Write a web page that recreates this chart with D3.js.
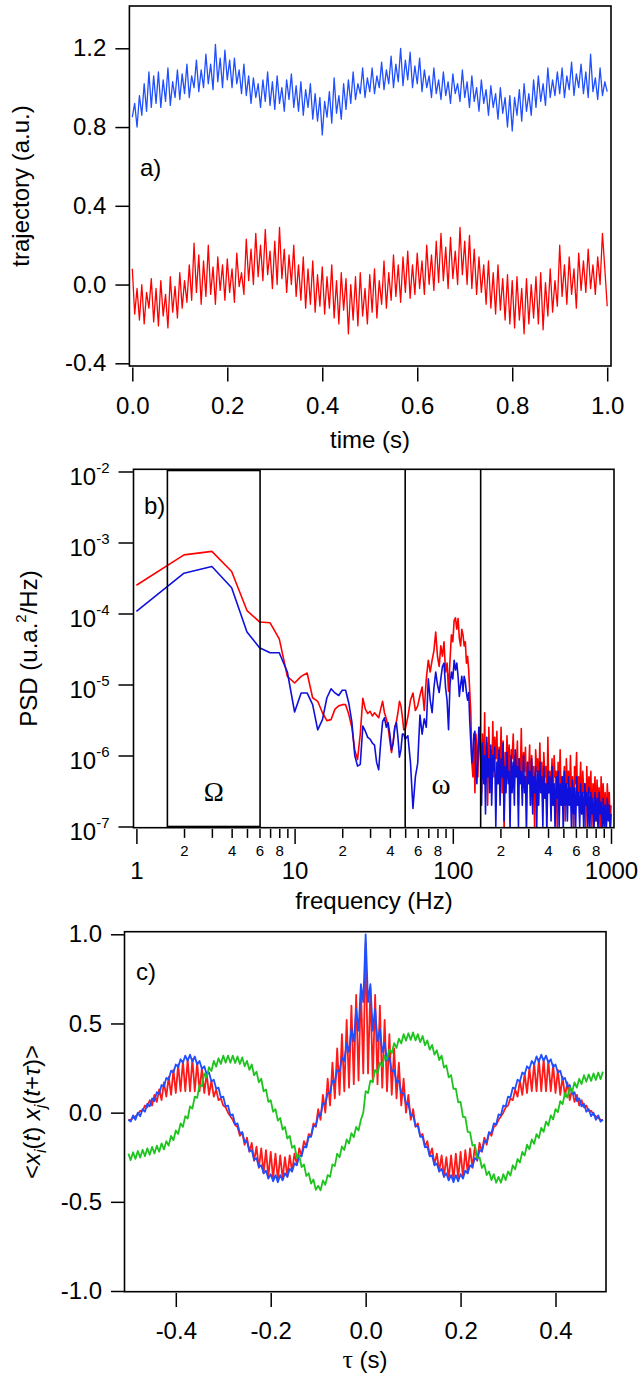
<!DOCTYPE html>
<html><head><meta charset="utf-8">
<script src="https://cdn.jsdelivr.net/npm/d3@7"></script>
<style>html,body{margin:0;padding:0;background:#fff;}svg{display:block;}</style>
</head><body>
<script>
// ---------------- Panel a data ----------------
const timeStep = 0.005;
const trajTimeTicks = [0, 0.2, 0.4, 0.6, 0.8, 1.0];
const trajValueTicks = [-0.4, 0, 0.4, 0.8, 1.2];
const trajBlue = [
.85,.92,.80,.96,.86,1.02,.88,1.08,.90,1.06,
.92,1.08,.90,1.04,.93,1.10,.91,1.03,.95,1.09,
.94,1.07,.97,1.12,.95,1.06,1.0,1.14,.98,1.09,
1.0,1.17,1.02,1.12,.99,1.22,1.03,1.15,1.0,1.19,
1.04,1.14,1.0,1.15,1.02,1.09,.97,1.12,.96,1.06,
.92,1.05,.95,1.02,.9,1.04,.93,1.08,.91,1.03,
.89,1.06,.92,1.0,.88,1.04,.94,1.07,.9,1.01,
.88,1.03,.86,.99,.9,1.02,.84,.97,.83,.95,
.76,.93,.85,.98,.82,1.05,.87,.96,.84,1.02,
.89,1.04,.92,1.08,.94,1.02,.97,1.1,.95,1.05,
.98,1.1,.97,1.06,1.0,1.13,.99,1.09,1.02,1.16,
1.0,1.12,1.03,1.2,1.01,1.14,1.04,1.18,1.0,1.11,
1.02,1.15,.98,1.09,1.0,1.06,.95,1.1,.97,1.04,
.94,1.08,.96,1.03,.92,1.07,.97,1.02,.93,1.09,
.95,1.03,.9,1.06,.93,1.0,.88,1.04,.92,.99,
.86,1.01,.9,.97,.84,1.0,.87,.95,.8,.96,
.78,.95,.86,.99,.83,1.02,.88,.97,.86,1.04,
.9,1.06,.93,1.02,.91,1.1,.95,1.04,.96,1.08,
.97,1.1,.95,1.06,.99,1.13,.96,1.07,1.0,1.12,
.97,1.08,.95,1.17,.98,1.05,.94,1.1,.96,1.03,
.98];
const trajRed = [
.08,-.15,-.02,-.18,.0,-.2,-.04,-.12,.03,-.19,
-.02,-.21,.02,-.16,-.05,-.22,.04,-.14,-.01,-.17,
.06,-.12,.02,-.09,.1,-.08,.21,-.04,.15,-.1,
.12,-.06,.2,-.05,.09,-.1,.14,-.03,.1,-.08,
.13,-.04,.08,-.09,.16,-.01,.06,-.05,.23,.02,
.18,.0,.26,.04,.2,.02,.28,.05,.17,-.02,
.22,.0,.29,.03,.18,-.04,.15,.0,.2,-.06,
.1,-.08,.14,-.12,.08,-.1,.12,-.14,.05,-.11,
.09,-.15,.04,-.12,.1,-.17,.02,-.2,.06,-.13,
.03,-.25,.0,-.18,.04,-.21,.06,-.16,-.02,-.2,
.05,-.14,.08,-.17,.02,-.1,.12,-.12,.06,-.08,
.15,-.06,.1,-.09,.14,-.04,.17,-.07,.1,-.05,
.16,-.02,.12,-.05,.2,.0,.15,-.03,.22,.01,
.26,.02,.19,-.02,.24,.03,.17,.0,.29,.05,
.22,.0,.25,-.02,.18,-.05,.14,-.04,.1,-.1,
.12,-.12,.06,-.15,.1,-.13,.03,-.18,.05,-.2,
.02,-.22,.04,-.18,-.02,-.25,.03,-.2,.0,-.17,
.04,-.2,.06,-.23,.01,-.16,.08,-.14,.02,-.11,
.2,-.06,.1,-.1,.14,-.05,.08,-.12,.16,-.03,
.12,-.04,.18,-.02,.1,-.05,.14,.0,.26,.08,
-.11];

// ---------------- Panel b data ----------------
const psdFreqLow = [1,2,3,4,5,6,7,8,9,10,11,12,13,14,15,16,17,18,19,20,21,22,23,24,25,26,27,28,29,30,
31,32,33,34,35,36,37,38,39,40,41,42,43,44,45,46,47,48,49,50];
const psdRedLow = [
2.5e-4,6.7e-4,7.5e-4,3.9e-4,1.1e-4,7.6e-5,7.4e-5,4.4e-5,1.3e-5,1.05e-5,
1.3e-5,1.45e-5,6.5e-6,5.8e-6,4.0e-6,3.1e-6,3.2e-6,4.5e-6,5.0e-6,5.2e-6,
5.2e-6,3.8e-6,2.5e-6,1.2e-6,8.8e-7,2.0e-6,6.4e-6,4.5e-6,3.9e-6,4.2e-6,
3.6e-6,4.0e-6,3.7e-6,3.4e-6,4.5e-6,5.8e-6,4.0e-6,3.3e-6,2.5e-6,1.6e-6,
1.1e-6,1.6e-6,2.5e-6,3.0e-6,4.0e-6,5.8e-6,5.0e-6,3.5e-6,2.3e-6,2.3e-6];
const psdBlueLow = [
1.07e-4,3.7e-4,4.6e-4,2.3e-4,5.5e-5,3.3e-5,2.8e-5,2.8e-5,1.5e-5,4.1e-6,
7.6e-6,7.6e-6,5.2e-6,2.3e-6,3.2e-6,6.5e-6,8.7e-6,7.6e-6,7.0e-6,8.3e-6,
8.3e-6,5.5e-6,3.0e-6,1.0e-6,7.1e-7,7.5e-7,2.6e-6,2.2e-6,1.8e-6,1.7e-6,
1.5e-6,1.4e-6,8e-7,6.3e-7,1.5e-6,3.0e-6,3.4e-6,2.5e-6,2.9e-6,2.0e-6,
1.2e-6,1.5e-6,2.5e-6,2.9e-6,1.8e-6,9.5e-7,1.2e-6,2.0e-6,2.0e-6,1.7e-6];
const psdFreqMid = [52,54,56,58,60,62,64,66,68,70,72,74,76,78,80,82,84,86,88,90,92,94,96,98,100,
102,104,106,108,110,112,114,116,118,120,122,124,126,128,130,132,134,136,138,140,142,144,146,148];
const psdRedMid = [
3.5e-6,6.0e-6,7.6e-6,4.3e-6,5.0e-6,7.0e-6,9.2e-6,4.3e-6,1.2e-5,2.2e-5,
1.5e-5,2.2e-5,3.0e-5,5.5e-5,2.5e-5,1.8e-5,3.5e-5,2.5e-5,4.0e-5,1.5e-5,
2.0e-5,8.0e-6,2.2e-5,5.0e-5,4.0e-5,8.0e-5,8.7e-5,6.0e-5,8.5e-5,4.5e-5,
3.5e-5,6.0e-5,5.0e-5,3.5e-5,4.0e-5,2.0e-5,2.5e-5,1.6e-5,8.0e-6,4.0e-6,
8.0e-7,5.0e-7,1.5e-6,3.0e-7,2.0e-6,1.2e-6,5.0e-7,1.8e-6,2.5e-6];
const psdBlueMid = [
1.9e-6,8e-7,1.8e-7,5e-7,7.8e-7,3.7e-6,2.0e-6,3.3e-6,2.5e-6,1.2e-5,
6e-6,4e-6,9e-6,1.5e-5,1.0e-5,7.7e-6,1.2e-5,1.8e-5,2.0e-5,9e-6,
6e-6,2.3e-6,1.0e-5,1.5e-5,1.2e-5,2.2e-5,1.6e-5,2.0e-5,1.3e-5,6.8e-6,
1.0e-5,1.3e-5,8e-6,1.3e-5,1.1e-5,7.7e-6,6e-6,7.7e-6,3e-6,1.5e-6,
7.9e-7,1.2e-6,2e-6,2.2e-6,6e-7,4e-7,1.0e-6,2.5e-6,1.5e-6];
const psdFreqHigh = [
150,152,154,157,159,161,164,166,169,171,
174,176,179,182,184,187,190,193,196,199,
202,205,208,211,214,217,220,224,227,230,
234,237,241,245,248,252,256,260,263,267,
271,275,280,284,288,292,297,301,306,310,
315,320,324,329,334,339,344,349,355,360,
365,371,376,382,388,393,399,405,411,418,
424,430,437,443,450,457,463,470,477,485,
492,499,507,514,522,530,538,546,554,563,
571,580,588,597,606,615,624,634,643,653,
663,673,683,693,703,714,725,735,746,757,
769,780,792,804,816,828,841,853,866,879,
892,905,919,933,947,961,975,990,1000];
const psdRedHigh = [
1.2e-6,3e-7,2e-6,6e-7,4e-6,4e-7,1.5e-6,2e-7,2.5e-6,8e-7,
1.2e-6,3e-7,3e-6,5e-7,1.8e-6,9e-7,2.2e-6,4e-7,1.3e-6,7e-7,
2.5e-6,3e-7,1.6e-6,8e-8,1.1e-6,5e-7,1.9e-6,6e-7,1.4e-6,3e-7,
1.2e-6,9e-7,2e-6,4e-7,1e-6,7e-7,1.6e-6,2e-7,9e-7,5e-7,
2.4e-6,4e-7,1.1e-6,6e-7,1.3e-6,3e-7,8e-7,5e-7,1.4e-6,2e-7,
1e-6,4e-7,7e-7,9e-8,1.2e-6,6e-7,9e-7,3e-7,1.5e-6,4e-7,
8e-7,2e-7,1.1e-6,5e-7,7e-7,1.5e-7,1.8e-6,3e-7,6e-7,4e-7,
9e-7,2e-7,1e-6,5e-7,6e-7,1e-7,8e-7,3e-7,1.2e-6,2e-7,
5e-7,3e-7,7e-7,1.2e-7,9e-7,4e-7,6e-7,2e-7,1e-6,3e-7,
5e-7,8e-8,7e-7,4e-7,1.1e-6,2e-7,5e-7,3e-7,8e-7,1.5e-7,
6e-7,3e-7,4e-7,9e-8,7e-7,2e-7,5e-7,3e-7,6e-7,1e-7,
4e-7,2.5e-7,5e-7,1.2e-7,4.5e-7,2e-7,3.5e-7,8e-8,5e-7,2e-7,
4e-7,1.5e-7,3e-7,9e-8,4e-7,2e-7,3e-7,1e-7,2e-7];
const psdBlueHigh = [
8e-7,2e-7,1.5e-6,4e-7,1e-6,1.5e-7,1.8e-6,5e-7,9e-7,3e-7,
1.4e-6,2e-7,1e-6,6e-7,1.3e-6,1e-7,8e-7,4e-7,1.2e-6,2e-7,
9e-7,5e-7,1.5e-6,1.2e-7,7e-7,3e-7,1.1e-6,4e-7,6e-7,9e-8,
1e-6,3e-7,8e-7,2e-7,1.2e-6,5e-7,7e-7,1e-7,9e-7,4e-7,
6e-7,2e-7,1e-6,3e-7,5e-7,8e-8,8e-7,4e-7,6e-7,2e-7,
9e-7,1.5e-7,5e-7,3e-7,7e-7,9e-8,6e-7,2e-7,8e-7,3e-7,
5e-7,1e-7,7e-7,2.5e-7,4e-7,8e-8,6e-7,3e-7,5e-7,1.2e-7,
7e-7,2e-7,4e-7,9e-8,5e-7,2.5e-7,6e-7,1e-7,4e-7,2e-7,
5e-7,8e-8,6e-7,2e-7,4e-7,1.2e-7,5e-7,2e-7,3.5e-7,9e-8,
4.5e-7,1.5e-7,3.5e-7,8e-8,5e-7,2e-7,3e-7,1e-7,4e-7,1.5e-7,
3e-7,8e-8,4e-7,2e-7,3e-7,1e-7,3.5e-7,9e-8,3e-7,1.5e-7,
2.5e-7,8e-8,3e-7,1.2e-7,2.5e-7,9e-8,3e-7,1.5e-7,2.2e-7,8e-8,
2.5e-7,1e-7,2e-7,9e-8,2.5e-7,1.2e-7,2e-7,8e-8,1.5e-7];
const psdDecadeTicks = [1, 10, 100, 1000];
const psdMinorSteps = [2, 3, 4, 5, 6, 7, 8, 9];
const psdMinorLabelled = [2, 4, 6, 8];
const psdExponentTicks = [-7, -6, -5, -4, -3, -2];
const bandLow = [1.57, 6.05];      // Ω band (Hz)
const bandHigh = [50, 150];        // ω band (Hz)

// ---------------- Panel c data ----------------
const lagStart = -0.5, lagStep = 0.005;
const lagTicks = [-0.4, -0.2, 0, 0.2, 0.4];
const corrTicks = [-1, -0.5, 0, 0.5, 1];
const corrRed = [
-.04,-.04,-.03,-.02,-.01,.01,.01,.04,.03,.07,
.04,.1,.06,.13,.07,.17,.09,.2,.1,.24,
.11,.27,.12,.29,.12,.3,.12,.3,.12,.28,
.12,.25,.11,.22,.1,.18,.09,.13,.07,.08,
.04,.03,.0,-.02,-.04,-.07,-.08,-.13,-.11,-.18,
-.14,-.22,-.17,-.27,-.19,-.31,-.2,-.34,-.21,-.36,
-.22,-.37,-.23,-.38,-.24,-.37,-.25,-.36,-.24,-.33,
-.23,-.29,-.2,-.24,-.16,-.19,-.12,-.13,-.06,-.08,
.02,-.04,.10,.0,.19,.04,.28,.08,.36,.10,
.44,.12,.52,.14,.60,.16,.66,.18,.70,.22,
.95,
.22,.70,.18,.66,.16,.60,.14,.52,.12,.44,
.10,.36,.08,.28,.04,.19,.0,.10,-.04,.02,
-.08,-.06,-.13,-.12,-.19,-.16,-.24,-.2,-.29,-.23,
-.33,-.24,-.36,-.25,-.37,-.24,-.38,-.23,-.37,-.22,
-.36,-.21,-.34,-.2,-.31,-.19,-.27,-.17,-.22,-.14,
-.18,-.11,-.13,-.08,-.07,-.04,-.02,.0,.03,.04,
.08,.07,.13,.09,.18,.1,.22,.11,.25,.12,
.28,.12,.3,.12,.3,.12,.29,.12,.27,.11,
.24,.1,.2,.09,.17,.07,.13,.06,.1,.04,
.07,.03,.04,.01,.01,-.01,-.02,-.03,-.04,-.04];
const corrBlue = [
-.04,-.05,-.015,-.04,0,-.02,.02,.005,.05,.035,
.08,.065,.115,.105,.155,.145,.195,.185,.235,.225,
.27,.255,.3,.28,.32,.29,.325,.285,.315,.27,
.29,.245,.26,.215,.225,.175,.185,.135,.14,.085,
.09,.035,.04,-.015,-.01,-.065,-.06,-.115,-.11,-.165,
-.16,-.215,-.21,-.265,-.255,-.305,-.295,-.34,-.325,-.37,
-.345,-.385,-.35,-.39,-.35,-.38,-.34,-.36,-.315,-.33,
-.285,-.295,-.24,-.245,-.19,-.195,-.135,-.135,-.075,-.075,
-.015,-.015,.05,.05,.11,.11,.18,.17,.24,.23,
.31,.29,.39,.34,.47,.40,.58,.46,.72,.62,
1.0,
.62,.72,.46,.58,.40,.47,.34,.39,.29,.31,
.23,.24,.17,.18,.11,.11,.05,.05,-.015,-.015,
-.075,-.075,-.135,-.135,-.195,-.19,-.245,-.24,-.295,-.285,
-.33,-.315,-.36,-.34,-.38,-.35,-.39,-.35,-.385,-.345,
-.37,-.325,-.34,-.295,-.305,-.255,-.265,-.21,-.215,-.16,
-.165,-.11,-.115,-.06,-.065,-.01,-.015,.04,.035,.09,
.085,.14,.135,.185,.175,.225,.215,.26,.245,.29,
.27,.315,.285,.325,.29,.32,.28,.3,.255,.27,
.225,.235,.185,.195,.145,.155,.105,.115,.065,.08,
.035,.05,.005,.02,-.02,0,-.04,-.015,-.05,-.04];
const corrGreen = [
-.23,-.266,-.222,-.259,-.215,-.252,-.208,-.244,-.2,-.236,
-.192,-.229,-.185,-.219,-.172,-.206,-.16,-.185,-.13,-.155,
-.1,-.12,-.06,-.08,-.02,-.033,.035,.023,.09,.083,
.155,.148,.22,.198,.255,.233,.29,.258,.305,.273,
.32,.28,.32,.28,.32,.278,.315,.273,.31,.26,
.29,.24,.27,.21,.23,.17,.19,.12,.13,.06,
.07,.005,.02,-.045,-.03,-.095,-.08,-.145,-.13,-.198,
-.185,-.253,-.24,-.305,-.29,-.355,-.34,-.398,-.375,-.433,
-.41,-.435,-.38,-.405,-.35,-.36,-.29,-.3,-.23,-.25,
-.19,-.21,-.15,-.173,-.115,-.138,-.08,-.1,-.04,.0,
.12,.11,.18,.17,.24,.22,.28,.26,.32,.298,
.355,.333,.39,.363,.415,.388,.44,.403,.445,.408,
.45,.405,.44,.395,.43,.378,.405,.353,.38,.325,
.35,.295,.32,.253,.265,.198,.21,.133,.135,.058,
.06,-.023,-.025,-.108,-.11,-.185,-.18,-.255,-.25,-.31,
-.29,-.35,-.33,-.378,-.345,-.393,-.36,-.393,-.345,-.378,
-.33,-.353,-.295,-.318,-.26,-.28,-.22,-.24,-.18,-.205,
-.15,-.175,-.12,-.143,-.085,-.108,-.05,-.073,-.015,-.038,
.02,.003,.065,.048,.11,.085,.14,.115,.17,.14,
.19,.16,.21,.173,.215,.178,.22,.183,.225,.188,
.23];

// ---------------- drawing ----------------
const FONT = '"Liberation Sans", Arial, Helvetica, sans-serif';
const SERIF = '"Liberation Serif", "Times New Roman", serif';
const svg = d3.select("body").append("svg")
  .attr("width", 641).attr("height", 1383)
  .style("font-family", FONT);

function styleAxis(g, size) {
  g.attr("font-size", size).attr("font-family", FONT);
  g.select(".domain").remove();
  g.selectAll(".tick line").attr("stroke", "#000").attr("stroke-width", 1.5);
  g.selectAll(".tick text").attr("fill", "#000");
}
function frame(f) {
  svg.append("rect").attr("x", f.x0).attr("y", f.y0)
    .attr("width", f.x1 - f.x0).attr("height", f.y1 - f.y0)
    .attr("fill", "none").attr("stroke", "#000").attr("stroke-width", 1.6);
}
function clip(id, f) {
  svg.append("clipPath").attr("id", id).append("rect")
    .attr("x", f.x0).attr("y", f.y0).attr("width", f.x1 - f.x0).attr("height", f.y1 - f.y0);
}
function yTitle(x, y, build) {
  const t = svg.append("text").attr("transform", `translate(${x},${y}) rotate(-90)`)
    .attr("text-anchor", "middle").attr("font-size", 24).attr("fill", "#000");
  build(t);
}

// ===== Panel a =====
const A = {x0: 129.4, x1: 611, y0: 6, y1: 366};
const ax = d3.scaleLinear().domain([0, 1]).range([132.3, 607.2]);
const ay = d3.scaleLinear().domain([-0.4, 1.2]).range([363.3, 48.3]);
clip("clipA", A);
const lineA = d3.line().x((d, i) => ax(i * timeStep)).y(d => ay(d));
const gA = svg.append("g").attr("clip-path", "url(#clipA)");
gA.append("path").datum(trajBlue).attr("d", lineA).attr("fill", "none")
  .attr("stroke", "#1f4fff").attr("stroke-width", 1.3).attr("stroke-linejoin", "round");
gA.append("path").datum(trajRed).attr("d", lineA).attr("fill", "none")
  .attr("stroke", "#ff0000").attr("stroke-width", 1.3).attr("stroke-linejoin", "round");
frame(A);
const yAxA = svg.append("g").attr("transform", `translate(${A.x0},0)`)
  .call(d3.axisLeft(ay).tickValues(trajValueTicks).tickSize(14).tickSizeOuter(0).tickPadding(9).tickFormat(d => d.toFixed(1)));
styleAxis(yAxA, 24);
const xAxA = svg.append("g").attr("transform", `translate(0,${A.y1 + 1.5})`)
  .call(d3.axisBottom(ax).tickValues(trajTimeTicks).tickSize(14).tickSizeOuter(0).tickFormat(d => d.toFixed(1)));
styleAxis(xAxA, 24);
xAxA.selectAll(".tick text").attr("y", 46.5).attr("dy", null);
svg.append("text").attr("x", 370).attr("y", 448).attr("text-anchor", "middle").attr("font-size", 24).text("time (s)");
yTitle(29, 186, t => t.text("trajectory (a.u.)"));
svg.append("text").attr("x", 140).attr("y", 176).attr("font-size", 24).text("a)");

// ===== Panel b =====
const B = {x0: 133.5, x1: 614, y0: 469.3, y1: 827.7};
const bx = d3.scaleLog().domain([1, 1000]).range([136.4, 611]);
const by = d3.scaleLog().domain([1e-7, 1e-2]).range([826.5, 471.5]);
clip("clipB", B);
const psdFreq = psdFreqLow.concat(psdFreqMid, psdFreqHigh);
const psdRed = psdRedLow.concat(psdRedMid, psdRedHigh);
const psdBlue = psdBlueLow.concat(psdBlueMid, psdBlueHigh);
const lineB = d3.line().x((d, i) => bx(psdFreq[i])).y(d => by(d));
const gB = svg.append("g").attr("clip-path", "url(#clipB)");
gB.append("path").datum(psdRed).attr("d", lineB).attr("fill", "none")
  .attr("stroke", "#ff0000").attr("stroke-width", 1.6).attr("stroke-linejoin", "round");
gB.append("path").datum(psdBlue).attr("d", lineB).attr("fill", "none")
  .attr("stroke", "#1010dd").attr("stroke-width", 1.6).attr("stroke-linejoin", "round");
frame(B);
// Ω box
svg.append("rect").attr("x", bx(bandLow[0])).attr("y", B.y0 + 1.2)
  .attr("width", bx(bandLow[1]) - bx(bandLow[0])).attr("height", B.y1 - B.y0 - 2.4)
  .attr("fill", "none").attr("stroke", "#000").attr("stroke-width", 1.6);
// ω lines
bandHigh.forEach(f => {
  svg.append("line").attr("x1", bx(f)).attr("x2", bx(f)).attr("y1", B.y0).attr("y2", B.y1)
    .attr("stroke", "#000").attr("stroke-width", 1.6);
});
svg.append("text").attr("x", (bx(bandLow[0]) + bx(bandLow[1])) / 2).attr("y", 801)
  .attr("text-anchor", "middle").attr("font-family", SERIF).attr("font-size", 27).text("Ω");
svg.append("text").attr("x", 441).attr("y", 794)
  .attr("text-anchor", "middle").attr("font-family", SERIF).attr("font-size", 29).text("ω");
// y axis (log)
const yAxB = svg.append("g").attr("transform", `translate(${B.x0},0)`)
  .call(d3.axisLeft(by).tickValues(psdExponentTicks.map(e => Math.pow(10, e))).tickSize(15).tickSizeOuter(0).tickFormat(""));
styleAxis(yAxB, 24);
yAxB.selectAll(".tick text").each(function (d) {
  const t = d3.select(this);
  const e = Math.round(Math.log10(d));
  t.text(null).attr("x", -24).attr("dy", null).attr("y", 13).attr("text-anchor", "end");
  t.append("tspan").text("10");
  t.append("tspan").attr("font-size", 15).attr("dy", -12).text(String(e));
});
// x axis (log)
const psdTicks = [];
psdDecadeTicks.forEach(d => {
  psdTicks.push(d);
  if (d < 1000) psdMinorSteps.forEach(m => psdTicks.push(d * m));
});
const xAxB = svg.append("g").attr("transform", `translate(0,${B.y1 + 1.2})`)
  .call(d3.axisBottom(bx).tickValues(psdTicks).tickSize(9).tickSizeOuter(0).tickFormat(""));
styleAxis(xAxB, 24);
xAxB.selectAll(".tick").each(function (d) {
  const g = d3.select(this);
  const dec = Math.pow(10, Math.floor(Math.log10(d) + 1e-9));
  const m = Math.round(d / dec);
  const t = g.select("text").attr("dy", null);
  if (m === 1) {
    g.select("line").attr("y2", 15);
    t.attr("y", 50).attr("font-size", 24).text(String(d));
  } else if (psdMinorLabelled.includes(m)) {
    t.attr("y", 27).attr("font-size", 15).text(String(m));
  } else {
    t.text("");
  }
});
svg.append("text").attr("x", 374).attr("y", 909).attr("text-anchor", "middle").attr("font-size", 24).text("frequency (Hz)");
yTitle(37, 648.5, t => {
  t.append("tspan").text("PSD (u.a.");
  t.append("tspan").attr("font-size", 15).attr("dy", -11).text("2");
  t.append("tspan").attr("dy", 11).text("/Hz)");
});
svg.append("text").attr("x", 144).attr("y", 514).attr("font-size", 24).text("b)");

// ===== Panel c =====
const C = {x0: 124.5, x1: 606, y0: 931.7, y1: 1291.7};
const cx = d3.scaleLinear().domain([-0.4, 0.4]).range([175.8, 555.5]);
const cy = d3.scaleLinear().domain([-1, 1]).range([1291, 934.3]);
clip("clipC", C);
const lineC = d3.line().x((d, i) => cx(lagStart + i * lagStep)).y(d => cy(d));
const gC = svg.append("g").attr("clip-path", "url(#clipC)");
[[corrRed, "#ff1a1a"], [corrBlue, "#1f4fff"], [corrGreen, "#1ec41e"]].forEach(([s, c]) => {
  gC.append("path").datum(s).attr("d", lineC).attr("fill", "none")
    .attr("stroke", c).attr("stroke-width", 1.8).attr("stroke-linejoin", "round");
});
frame(C);
const yAxC = svg.append("g").attr("transform", `translate(${C.x0},0)`)
  .call(d3.axisLeft(cy).tickValues(corrTicks).tickSize(13.5).tickSizeOuter(0).tickPadding(9).tickFormat(d => d.toFixed(1)));
styleAxis(yAxC, 24);
const xAxC = svg.append("g").attr("transform", `translate(0,${C.y1 + 1.3})`)
  .call(d3.axisBottom(cx).tickValues(lagTicks).tickSize(14).tickSizeOuter(0).tickFormat(d => d.toFixed(1)));
styleAxis(xAxC, 24);
xAxC.selectAll(".tick text").attr("y", 46).attr("dy", null);
const tl = svg.append("text").attr("x", 365).attr("y", 1368).attr("text-anchor", "middle").attr("font-size", 24);
tl.append("tspan").attr("font-family", SERIF).attr("font-size", 26).text("τ");
tl.append("tspan").text(" (s)");
yTitle(40, 1112, t => {
  t.append("tspan").text("<");
  t.append("tspan").attr("font-style", "italic").text("x");
  t.append("tspan").attr("font-style", "italic").attr("font-size", 16).attr("dy", 6).text("i");
  t.append("tspan").attr("dy", -6).text("(");
  t.append("tspan").attr("font-style", "italic").text("t");
  t.append("tspan").text(") ");
  t.append("tspan").attr("font-style", "italic").text("x");
  t.append("tspan").attr("font-style", "italic").attr("font-size", 16).attr("dy", 6).text("j");
  t.append("tspan").attr("dy", -6).text("(");
  t.append("tspan").attr("font-style", "italic").text("t");
  t.append("tspan").text("+");
  t.append("tspan").attr("font-style", "italic").text("τ");
  t.append("tspan").text(")>");
});
svg.append("text").attr("x", 136).attr("y", 980).attr("font-size", 24).text("c)");
</script>
</body></html>
